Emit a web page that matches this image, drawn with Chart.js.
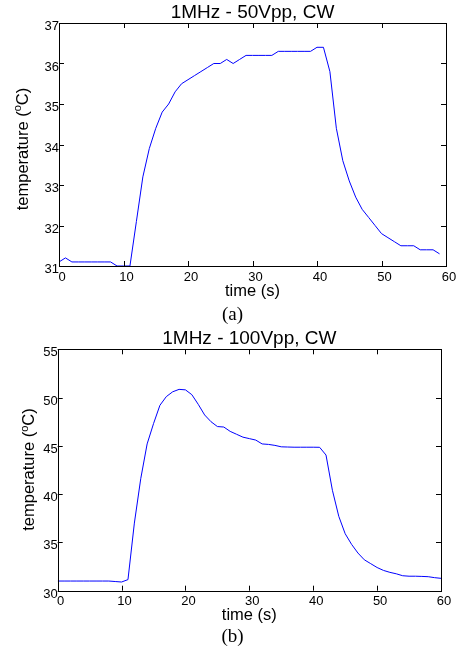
<!DOCTYPE html>
<html>
<head>
<meta charset="utf-8">
<script src="https://cdn.jsdelivr.net/npm/chart.js@4"></script>
<style>
  html, body { margin: 0; padding: 0; background: #fff; }
  body { width: 459px; height: 652px; position: relative; overflow: hidden; }
  .box { position: absolute; left: 0; width: 459px; }
  .cap {
    position: absolute; left: 0; width: 465px; text-align: center;
    font-family: "Liberation Serif", "Times New Roman", serif;
    font-size: 19px; line-height: 19px; color: #000;
  }
</style>
</head>
<body>

<div class="box" style="top:0; height:306px;"><canvas id="chartA"></canvas></div>
<div class="cap" style="top:304px;">(a)</div>

<div class="box" style="top:326px; height:303px;"><canvas id="chartB"></canvas></div>
<div class="cap" style="top:626px;">(b)</div>

<script>
/* ---------- data ---------- */

const timeA = [0, 1, 2, 3, 4, 5, 6, 7, 8, 9, 10, 11, 12, 13, 14, 15, 16, 17, 18, 19,
  20, 21, 22, 23, 24, 25, 26, 27, 28, 29, 30, 31, 32, 33, 34, 35, 36, 37, 38, 39,
  40, 41, 42, 43, 44, 45, 46, 47, 48, 49, 50, 51, 52, 53, 54, 55, 56, 57, 58, 59];

const tempA = [31.1, 31.2, 31.1, 31.1, 31.1, 31.1, 31.1, 31.1, 31.1, 31.0,
  31.0, 31.0, 32.1, 33.2, 33.9, 34.4, 34.8, 35.0, 35.3, 35.5,
  35.6, 35.7, 35.8, 35.9, 36.0, 36.0, 36.1, 36.0, 36.1, 36.2,
  36.2, 36.2, 36.2, 36.2, 36.3, 36.3, 36.3, 36.3, 36.3, 36.3,
  36.4, 36.4, 35.8, 34.4, 33.6, 33.1, 32.7, 32.4, 32.2, 32.0,
  31.8, 31.7, 31.6, 31.5, 31.5, 31.5, 31.4, 31.4, 31.4, 31.3];

const timeB = [0, 1, 2, 3, 4, 5, 6, 7, 8, 9, 10, 11, 12, 13, 14, 15, 16, 17, 18, 19,
  20, 21, 22, 23, 24, 25, 26, 27, 28, 29, 30, 31, 32, 33, 34, 35, 36, 37, 38, 39,
  40, 41, 42, 43, 44, 45, 46, 47, 48, 49, 50, 51, 52, 53, 54, 55, 56, 57, 58, 59, 60];

const tempB = [31.0, 31.0, 31.0, 31.0, 31.0, 31.0, 31.0, 31.0, 31.0, 30.95,
  30.9, 31.15, 37.0, 41.6, 45.2, 47.3, 49.2, 50.1, 50.6, 50.85,
  50.8, 50.3, 49.3, 48.2, 47.5, 47.0, 46.95, 46.5, 46.2, 45.9,
  45.75, 45.6, 45.2, 45.15, 45.05, 44.9, 44.88, 44.86, 44.86, 44.86,
  44.86, 44.85, 44.05, 40.4, 37.7, 35.9, 34.8, 33.9, 33.2, 32.8,
  32.4, 32.1, 31.9, 31.75, 31.55, 31.5, 31.5, 31.48, 31.45, 31.35, 31.28];

const timeTicks = [0, 10, 20, 30, 40, 50, 60];
const tempTicksA = [31, 32, 33, 34, 35, 36, 37];
const tempTicksB = [30, 35, 40, 45, 50, 55];

/* ---------- box, inward ticks, y title with superscript ---------- */

const boxTicks = {
  id: 'boxTicks',
  afterDraw(chart, args, opts) {
    const { ctx, chartArea: a, scales: { x, y } } = chart;
    const L = 5;
    ctx.save();
    ctx.strokeStyle = '#000';
    ctx.lineWidth = 1;
    ctx.beginPath();
    x.ticks.forEach(t => {
      const px = Math.round(x.getPixelForValue(t.value)) + 0.5;
      ctx.moveTo(px, a.bottom); ctx.lineTo(px, a.bottom - L);
      ctx.moveTo(px, a.top); ctx.lineTo(px, a.top + L);
    });
    y.ticks.forEach(t => {
      const py = Math.round(y.getPixelForValue(t.value)) + 0.5;
      ctx.moveTo(a.left, py); ctx.lineTo(a.left + L, py);
      ctx.moveTo(a.right, py); ctx.lineTo(a.right - L, py);
    });
    ctx.stroke();
    ctx.strokeRect(Math.round(a.left) + 0.5, Math.round(a.top) + 0.5,
      Math.round(a.right) - Math.round(a.left), Math.round(a.bottom) - Math.round(a.top));

    // y axis title: temperature (°C) with a raised small o
    const main = '16.5px "Liberation Sans", Arial, sans-serif';
    const small = '11px "Liberation Sans", Arial, sans-serif';
    const p1 = 'temperature (', sup = 'o', p2 = 'C)';
    ctx.fillStyle = '#000';
    ctx.textBaseline = 'middle';
    ctx.textAlign = 'left';
    ctx.font = main;
    const w1 = ctx.measureText(p1).width, w2 = ctx.measureText(p2).width;
    ctx.font = small;
    const ws = ctx.measureText(sup).width;
    const total = w1 + ws + w2;
    ctx.translate(opts.titleX, opts.titleY);
    ctx.rotate(-Math.PI / 2);
    let cx = -total / 2;
    ctx.font = main;
    ctx.fillText(p1, cx, 0);
    cx += w1;
    ctx.font = small;
    ctx.fillText(sup, cx, -5);
    cx += ws;
    ctx.font = main;
    ctx.fillText(p2, cx, 0);
    ctx.restore();
  }
};

/* ---------- chart builder ---------- */

function criarGrafico(id, cfg) {
  const font = { family: '"Liberation Sans", Arial, sans-serif' };
  return new Chart(document.getElementById(id), {
    type: 'line',
    data: {
      datasets: [{
        data: cfg.times.map((t, i) => ({ x: t, y: cfg.temps[i] })),
        borderColor: '#0000ff',
        borderWidth: 1,
        pointRadius: 0,
        tension: 0,
        fill: false
      }]
    },
    options: {
      responsive: true,
      maintainAspectRatio: false,
      animation: false,
      layout: { padding: { left: 0, right: cfg.padRight, top: 0, bottom: 0 } },
      plugins: {
        legend: { display: false },
        tooltip: { enabled: false },
        title: {
          display: true,
          text: cfg.title,
          fullSize: false,
          color: '#000',
          font: { ...font, size: 19, weight: 'normal', lineHeight: 1 },
          padding: { top: 3, bottom: cfg.titleGap }
        },
        boxTicks: { titleX: cfg.yTitleX, titleY: cfg.yTitleY }
      },
      scales: {
        x: {
          type: 'linear',
          min: 0, max: 60,
          afterBuildTicks: s => { s.ticks = timeTicks.map(v => ({ value: v })); },
          afterFit: s => { s.height = cfg.xHeight; },
          grid: { display: false, drawTicks: false },
          border: { display: false },
          ticks: {
            color: '#000',
            font: { ...font, size: 13 },
            padding: cfg.xPad,
            labelOffset: 3,
            maxRotation: 0,
            autoSkip: false
          },
          title: {
            display: true,
            text: 'time (s)',
            color: '#000',
            font: { ...font, size: 16.5, lineHeight: 1 },
            padding: { top: 0, bottom: cfg.xTitlePad }
          }
        },
        y: {
          min: cfg.yMin, max: cfg.yMax,
          afterBuildTicks: s => { s.ticks = cfg.yTicks.map(v => ({ value: v })); },
          afterFit: s => { s.width = cfg.yWidth; },
          grid: { display: false, drawTicks: false },
          border: { display: false },
          ticks: {
            color: '#000',
            font: { ...font, size: 13 },
            padding: 0,
            labelOffset: 3.5,
            autoSkip: false
          }
        }
      }
    },
    plugins: [boxTicks]
  });
}

criarGrafico('chartA', {
  title: '1MHz - 50Vpp, CW',
  times: timeA, temps: tempA,
  yMin: 31, yMax: 37, yTicks: tempTicksA,
  padRight: 13, yWidth: 59, xHeight: 40,
  titleGap: 1, xPad: 4, xTitlePad: 6,
  yTitleX: 23, yTitleY: 149
});

criarGrafico('chartB', {
  title: '1MHz - 100Vpp, CW',
  times: timeB, temps: tempB,
  yMin: 30, yMax: 55, yTicks: tempTicksB,
  padRight: 18, yWidth: 57.7, xHeight: 38.3,
  titleGap: 1.3, xPad: 3, xTitlePad: 5,
  yTitleX: 29.5, yTitleY: 143.5
});
</script>
</body>
</html>
